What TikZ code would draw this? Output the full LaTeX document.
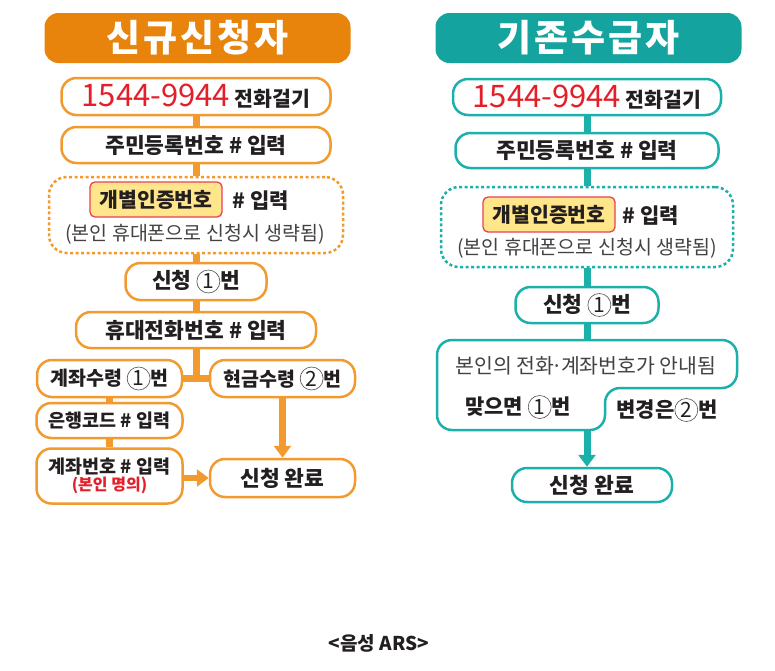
\documentclass[tikz,border=0pt]{standalone}
\usepackage{fontspec}
\setmainfont{Noto Sans CJK KR}
\usetikzlibrary{arrows.meta,positioning}
\definecolor{orng}{HTML}{F29A2E}
\definecolor{orngdark}{HTML}{E8830C}
\definecolor{tealline}{HTML}{1BB0AA}
\definecolor{tealdark}{HTML}{14A39E}
\definecolor{telred}{HTML}{E3202A}
\definecolor{ink}{HTML}{231F20}
\definecolor{hilite}{HTML}{FFE68A}
\definecolor{hiliteline}{HTML}{E94057}
\newcommand{\cnum}[1]{\tikz[baseline=(n.base)]\node[circle, draw=ink!80, line width=0.6pt, inner sep=0pt, minimum size=23pt, font=\fontsize{21}{21}\selectfont\mdseries] (n) {#1};}
\newcommand{\fs}[1]{\fontsize{#1}{#1}\selectfont}

\begin{document}
\begin{tikzpicture}[x=1pt, y=-1pt,
    ttl/.style={rounded corners=14pt, minimum width=306pt, minimum height=50pt, text=white, font=\fs{37}\bfseries},
    obox/.style={draw=orng, line width=2.5pt, rounded corners=15pt, fill=white, text=ink, inner sep=0pt, font=\fs{21.5}\bfseries, align=center},
    tbox/.style={obox, draw=tealline},
    small/.style={font=\fs{18.5}\bfseries},
    dotbox/.style={dash pattern=on 3pt off 2.5pt, rounded corners=18pt},
    hl/.style={draw=hiliteline, line width=1.3pt, fill=hilite, rounded corners=5pt, minimum width=132pt, minimum height=35pt, text=ink, font=\fs{20.5}\bfseries},
    plain/.style={text=ink, inner sep=0pt, font=\fs{21}\bfseries},
    sub/.style={text=ink!85, inner sep=0pt, font=\fs{19.5}},
    oline/.style={draw=orng, line width=7pt},
    tline/.style={draw=tealline, line width=7pt},
    tip/.style={-{Triangle[length=12pt,width=17pt]}}
  ]
    \useasboundingbox (0,0) rectangle (775,670);
    % left column: new applicants
    \node[ttl, fill=orngdark] (ltitle) at (197.5,38) {신\kern3pt 규\kern3pt 신\kern3pt 청\kern3pt 자};
    \node[obox, minimum width=269pt, minimum height=37pt] (lphone) at (196,96.5) {{\fs{31}\mdseries\color{telred}1544-9944}\ {\fs{20.5}전화걸기}};
    \node[obox, minimum width=269pt, minimum height=36pt] (lid) at (196,145) {주민등록번호 \# 입력};
    \node[obox, dotbox, minimum width=294pt, minimum height=76pt] (lauth) at (196,215) {};
    \node[hl] (lcode) at (156,199.5) {개별인증번호};
    \node[plain] (lcodein) at (261,201) {\# 입력};
    \node[sub] (lskip) at (195,234) {(본인 휴대폰으로 신청시 생략됨)};
    \node[obox, minimum width=141pt, minimum height=37pt] (lapply) at (196,281.5) {신청 \cnum{1}번};
    \node[obox, minimum width=240pt, minimum height=36pt] (lmobile) at (196,330) {휴대전화번호 \# 입력};
    \node[obox, small, font=\fs{19.5}\bfseries, minimum width=145pt, minimum height=37pt] (lacct) at (109.5,378.5) {계좌수령 \cnum{1}번};
    \node[obox, small, font=\fs{19.5}\bfseries, minimum width=145pt, minimum height=37pt] (lcash) at (282.5,378.5) {현금수령 \cnum{2}번};
    \node[obox, small, minimum width=146pt, minimum height=35pt] (lbank) at (109.5,420.5) {은행코드 \# 입력};
    \node[obox, small, minimum width=146pt, minimum height=55pt] (lacctno) at (109.5,476) {계좌번호 \# 입력\\[-2pt]{\fs{16}\color{telred}(본인 명의)}};
    \node[obox, minimum width=145pt, minimum height=38pt] (ldone) at (282.5,478) {신청 완료};
    \draw[oline] (lphone) -- (lid);
    \draw[oline] (lid) -- (lauth);
    \draw[oline] (lauth) -- (lapply);
    \draw[oline] (lapply) -- (lmobile);
    \draw[oline] (lmobile.south) -- (lmobile.south |- lacct.east);
    \draw[oline] (lacct.east) -- (lcash.west);
    \draw[oline] (lacct) -- (lbank);
    \draw[oline] (lbank) -- (lacctno);
    \draw[oline, tip] (lcash) -- (ldone);
    \draw[oline, line width=6pt, tip] (lacctno.east |- ldone.west) -- (ldone.west);
    % right column: existing recipients
    \node[ttl, fill=tealdark] (rtitle) at (588.5,38) {기\kern3pt 존\kern3pt 수\kern3pt 급\kern3pt 자};
    \node[tbox, minimum width=268pt, minimum height=36pt] (rphone) at (587,97) {{\fs{31}\mdseries\color{telred}1544-9944}\ {\fs{20.5}전화걸기}};
    \node[tbox, minimum width=263pt, minimum height=35pt] (rid) at (587,150.5) {주민등록번호 \# 입력};
    \node[tbox, dotbox, minimum width=292pt, minimum height=80pt] (rauth) at (587,227) {};
    \node[hl] (rcode) at (549,214.5) {개별인증번호};
    \node[plain] (rcodein) at (651,216) {\# 입력};
    \node[sub] (rskip) at (587,248) {(본인 휴대폰으로 신청시 생략됨)};
    \node[tbox, minimum width=143pt, minimum height=36pt] (rapply) at (587,305) {신청 \cnum{1}번};
    \coordinate (rinfotop) at (587,340);
    \coordinate (rinfobot) at (587,430);
    \draw[draw=tealline, line width=2.5pt, rounded corners=15pt, fill=white]
      (437,340) -- (737,340) -- (737,388) -- (605,388) -- (605,430) -- (437,430) -- cycle;
    \node[sub, font=\fs{20.5}] (rinfo) at (586,366) {본인의 전화\kern-.12em·\kern-.12em계좌번호가 안내됨};
    \node[plain] (rok) at (518,407) {맞으면 \cnum{1}번};
    \node[plain] (rchange) at (667,410) {변경은\cnum{2}번};
    \node[tbox, minimum width=160pt, minimum height=34pt] (rdone) at (592,485) {신청 완료};
    \draw[tline] (rphone) -- (rid);
    \draw[tline] (rid) -- (rauth);
    \draw[tline] (rauth) -- (rapply);
    \draw[tline] (rapply) -- (rinfotop);
    \draw[tline, tip] (rinfobot) -- (rinfobot |- rdone.north);
    % caption
    \node[plain, font=\fs{19}\bfseries] (cap) at (379,643) {<음성 ARS>};
  \end{tikzpicture}
\end{document}
